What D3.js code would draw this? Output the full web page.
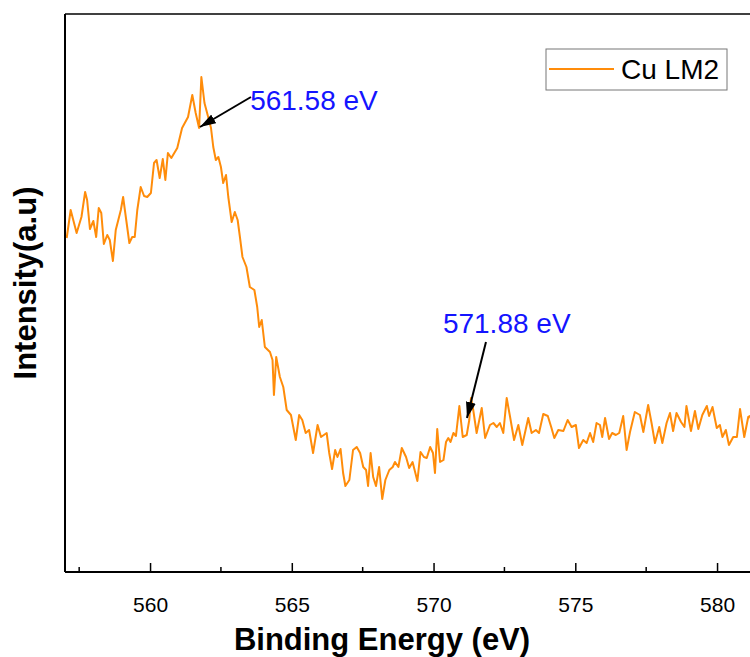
<!DOCTYPE html>
<html>
<head>
<meta charset="utf-8">
<script src="https://cdn.jsdelivr.net/npm/d3@7"></script>
<style>
  body { margin: 0; background: #fff; }
  svg { display: block; font-family: "Liberation Sans", Arial, sans-serif; }
</style>
</head>
<body>
<script>
// Cu LM2 Auger region, binding energy (eV) vs intensity (a.u.)
const energy = [
  557.06,557.20,557.41,557.58,557.71,557.78,557.88,558.00,558.10,558.19,558.28,558.37,558.49,558.58,558.69,558.79,
  558.97,559.05,559.16,559.27,559.37,559.46,559.55,559.67,559.79,559.90,560.03,560.14,560.23,560.34,560.45,560.54,
  560.63,560.75,560.96,561.13,561.34,561.49,561.61,561.73,561.81,561.92,562.05,562.15,562.23,562.32,562.41,562.50,
  562.58,562.68,562.76,562.88,562.99,563.09,563.17,563.26,563.40,563.52,563.68,563.78,563.85,563.94,564.05,564.23,
  564.32,564.37,564.45,564.58,564.70,564.82,564.97,565.14,565.26,565.37,565.49,565.61,565.75,565.91,566.03,566.23,
  566.32,566.42,566.53,566.61,566.72,566.81,566.89,567.03,567.16,567.29,567.41,567.52,567.62,567.69,567.78,567.87,
  567.97,568.08,568.19,568.30,568.44,568.56,568.64,568.76,568.88,569.03,569.14,569.26,569.43,569.54,569.66,569.76,
  569.88,569.98,570.05,570.13,570.23,570.35,570.44,570.52,570.60,570.70,570.79,570.91,571.03,571.17,571.26,571.32,
  571.40,571.52,571.70,571.82,571.99,572.11,572.23,572.34,572.46,572.58,572.70,572.84,572.99,573.13,573.34,573.46,
  573.61,573.72,573.87,574.03,574.15,574.26,574.40,574.58,574.73,574.87,575.02,575.13,575.28,575.40,575.52,575.63,
  575.75,575.87,575.95,576.05,576.19,576.30,576.43,576.55,576.69,576.81,576.93,577.10,577.28,577.40,577.57,577.69,
  577.81,577.96,578.07,578.22,578.34,578.45,578.57,578.73,578.85,578.92,579.08,579.22,579.34,579.48,579.64,579.72,
  579.84,579.99,580.10,580.19,580.31,580.42,580.57,580.70,580.81,580.96,581.10,581.17,581.29
];
const intensity = [
  334,362,339,355,380,372,343,351,335,364,359,328,337,332,311,342,
  362,375,352,329,335,335,362,385,376,375,379,409,412,394,413,392,
  419,414,424,444,455,477,459,444,495,469,455,444,425,412,415,405,
  389,397,375,350,360,352,335,315,305,285,282,265,245,252,225,220,
  212,177,215,195,185,162,157,132,157,152,139,142,119,147,135,139,
  119,103,122,115,123,99,86,92,122,125,119,105,102,86,119,95,
  86,105,73,92,102,105,110,105,124,115,104,110,91,120,115,114,
  125,119,99,143,110,112,130,134,130,139,136,166,135,137,152,174,
  162,139,164,134,147,149,145,149,139,174,155,132,147,127,154,139,
  142,139,158,156,145,134,142,141,152,145,147,124,132,129,139,130,
  149,147,135,154,133,139,137,139,156,122,140,160,157,140,167,149,
  129,145,129,149,159,141,159,150,145,166,141,161,143,157,166,156,
  165,144,147,135,142,127,135,135,163,135,155,156,140
];

const xTicks = [560, 565, 570, 575, 580];
const xMinorTicks = [557.5, 562.5, 567.5, 572.5, 577.5, 582.5];
const seriesName = "Cu LM2";
const xTitle = "Binding Energy (eV)";
const yTitle = "Intensity(a.u)";

// peak labels: where the arrow points, where its tail sits, where the text starts
const annLabels = ["561.58 eV", "571.88 eV"];
const annTip = [[561.76, 445], [571.18, 154]];
const annTail = [[563.56, 475], [571.85, 230]];
const annText = [[563.53, 462], [570.33, 239]];

const W = 750, H = 657;
const ORANGE = "#ff8c0a";
const margin = {left: 65, top: 14, bottom: 85};

const svg = d3.select("body").append("svg")
    .attr("width", W)
    .attr("height", H);

const x = d3.scaleLinear().domain([557, 582]).range([margin.left, margin.left + 25 * 28.35]);
const y = d3.scaleLinear().domain([0, 558]).range([H - margin.bottom, margin.top]);

svg.append("defs").append("clipPath").attr("id", "plotclip")
  .append("rect")
    .attr("x", margin.left).attr("y", margin.top)
    .attr("width", W - margin.left).attr("height", y(0) - margin.top);

svg.append("defs").append("marker")
    .attr("id", "arrowhead")
    .attr("viewBox", "0 0 16 10")
    .attr("refX", 16).attr("refY", 5)
    .attr("markerWidth", 8).attr("markerHeight", 5)
    .attr("markerUnits", "strokeWidth")
    .attr("orient", "auto")
  .append("path")
    .attr("d", "M0,0 L16,5 L0,10 Z")
    .attr("fill", "black");

// data line
const pts = energy.map((e, i) => [e, intensity[i]]);
svg.append("path")
    .datum(pts)
    .attr("clip-path", "url(#plotclip)")
    .attr("fill", "none")
    .attr("stroke", ORANGE)
    .attr("stroke-width", 2)
    .attr("stroke-linejoin", "round")
    .attr("d", d3.line().x(d => x(d[0])).y(d => y(d[1])));

// frame: top and left lines
svg.append("line")
    .attr("x1", margin.left).attr("x2", W)
    .attr("y1", margin.top).attr("y2", margin.top)
    .attr("stroke", "black").attr("stroke-width", 1.5);
svg.append("line")
    .attr("x1", margin.left).attr("x2", margin.left)
    .attr("y1", margin.top).attr("y2", y(0))
    .attr("stroke", "black").attr("stroke-width", 2);

// x axis
const xAxis = svg.append("g")
    .attr("transform", `translate(0,${y(0)})`)
    .call(d3.axisBottom(x).tickValues(xTicks).tickSize(-9).tickFormat(d3.format("d")));
xAxis.select(".domain").attr("stroke-width", 2).attr("d", `M${margin.left},0H${W}`);
xAxis.selectAll(".tick line").attr("stroke-width", 1.5);
xAxis.selectAll(".tick text")
    .attr("dy", null)
    .attr("y", 40)
    .attr("font-size", 21)
    .attr("font-family", "Liberation Sans, Arial, sans-serif")
    .attr("fill", "#000");

svg.append("g")
    .selectAll("line")
    .data(xMinorTicks.filter(t => x(t) < W))
    .join("line")
    .attr("x1", d => x(d)).attr("x2", d => x(d))
    .attr("y1", y(0)).attr("y2", y(0) - 5)
    .attr("stroke", "black").attr("stroke-width", 1.5);

// axis titles
svg.append("text")
    .attr("x", 382).attr("y", 650)
    .attr("text-anchor", "middle")
    .attr("font-size", 31).attr("font-weight", "bold")
    .text(xTitle);
svg.append("text")
    .attr("transform", "translate(36,283) rotate(-90)")
    .attr("text-anchor", "middle")
    .attr("font-size", 31).attr("font-weight", "bold")
    .text(yTitle);

// legend
const leg = svg.append("g");
leg.append("rect")
    .attr("x", 546).attr("y", 49).attr("width", 181).attr("height", 41)
    .attr("fill", "white").attr("stroke", "#777").attr("stroke-width", 1);
leg.append("line")
    .attr("x1", 549).attr("x2", 614).attr("y1", 69).attr("y2", 69)
    .attr("stroke", ORANGE).attr("stroke-width", 2);
leg.append("text")
    .attr("x", 621).attr("y", 79)
    .attr("font-size", 28)
    .text(seriesName);

// annotations
annLabels.forEach((lab, i) => {
  svg.append("line")
      .attr("x1", x(annTail[i][0])).attr("y1", y(annTail[i][1]))
      .attr("x2", x(annTip[i][0])).attr("y2", y(annTip[i][1]))
      .attr("stroke", "black").attr("stroke-width", 2)
      .attr("marker-end", "url(#arrowhead)");
  svg.append("text")
      .attr("x", x(annText[i][0])).attr("y", y(annText[i][1]))
      .attr("font-size", 28)
      .attr("fill", "#1414ff")
      .text(lab);
});
</script>
</body>
</html>
